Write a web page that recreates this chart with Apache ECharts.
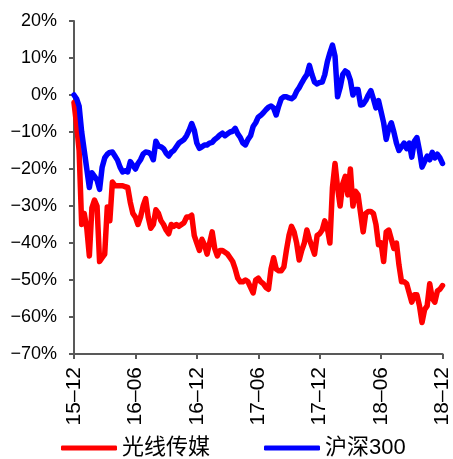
<!DOCTYPE html>
<html>
<head>
<meta charset="utf-8">
<script src="https://cdn.jsdelivr.net/npm/echarts@6/dist/echarts.min.js"></script>
<style>
html,body{margin:0;padding:0;background:#fff;}
#chart{width:453px;height:459px;}
</style>
</head>
<body>
<div id="chart"></div>
<script>
// Tick labels of the x axis (one every 24 weekly samples)
var xTickLabels = ['15–12','16–06','16–12','17–06','17–12','18–06','18–12'];
var yMin = -70, yMax = 20, yStep = 10;

// 光线传媒 relative return (%), ~weekly samples
var redName = '光线传媒';
var redValues = [
  -2,-8,-15,-35,-32,-36,-43.5,-30.5,-28.4,-30,
  -45,-44,-43,-30.3,-34,-23.5,-24.5,-24.5,-24.5,-24.5,
  -24.8,-25,-29,-32,-33,-35,-33,-30,-28,-33,
  -36,-35,-31,-32,-34,-35,-36.5,-37.5,-35,-35.5,
  -35,-35.5,-35,-34.5,-33,-33,-32.5,-38,-40,-42,
  -39,-40.5,-43,-40,-37,-41.5,-43.5,-42,-42,-42.5,
  -43,-44,-45,-47,-49.5,-50.5,-50.5,-50,-50.5,-52,
  -53.5,-50,-49.5,-50.5,-51,-52,-52.5,-47,-44,-47,
  -47.5,-47.5,-46.5,-42,-38,-35.5,-37,-40,-44.6,-42,
  -40,-36.5,-39,-41,-43,-38,-37.5,-36.5,-34,-36,
  -40,-25,-18.5,-25,-30,-24,-22,-27,-20,-30,
  -26,-27,-32,-37,-32,-31.5,-31.5,-32,-35,-40.5,
  -40,-45,-37,-36.5,-39,-41.5,-40,-46,-50.5,-50.5,
  -51,-53.5,-56,-54,-54,-57,-61.5,-58,-57,-51,
  -55,-56,-53,-52.5,-51.5
];

// 沪深300 relative return (%), ~weekly samples
var blueName = '沪深300';
var blueValues = [
  0,-1,-3,-10,-15,-20,-25,-21,-22,-23,
  -25.5,-19.5,-17,-16,-15.5,-15.4,-16.5,-17.6,-19.5,-20.8,
  -20.5,-20.8,-18,-19,-20,-18.5,-17.5,-16,-15.4,-15.5,
  -16,-17.5,-12.5,-13.8,-14,-14.5,-15.7,-16.5,-15.5,-15,
  -14,-13,-12.5,-12,-11,-9.5,-7.7,-9.5,-13,-14.4,
  -14,-13.5,-13.5,-13,-12.8,-12,-11.5,-10.8,-10.3,-11,
  -10.5,-10,-9.8,-9,-10.5,-11.5,-13,-13.5,-12,-11,
  -8.5,-7.5,-6,-5.5,-4.8,-4,-3.3,-3,-3.5,-5.4,
  -3,-1,-0.5,-0.5,-0.8,-1,-0.5,1,2,3.3,
  4.5,5.5,8,5.5,3.5,3,3.4,3.5,5.5,9,
  11.4,13.5,10.5,-0.5,2,5.5,6.5,6,4,0,
  1.5,1.5,-2.7,-2.5,-1.5,0,1.2,-1,-3.5,-1.5,
  -4.5,-7.5,-12,-9,-7.5,-10,-13,-15,-14,-13,
  -14.5,-13,-16.8,-12.5,-11.5,-15,-19.5,-18,-16.5,-17.5,
  -15.5,-17,-16,-17,-18.5
];

var samplesPerTick = 24;
var categories = redValues.map(function (_, i) { return 'w' + i; });

var fontFamily = "'Liberation Sans', Arial, 'Noto Sans CJK SC', sans-serif";
var chart = echarts.init(document.getElementById('chart'), null, {renderer: 'canvas'});
chart.setOption({
  animation: false,
  backgroundColor: '#ffffff',
  grid: {left: 74, right: 10, top: 21, bottom: 105, containLabel: false},
  legend: {
    top: 432,
    left: 56,
    itemWidth: 56,
    itemHeight: 5,
    itemGap: 54,
    icon: 'roundRect',
    textStyle: {fontSize: 22, color: '#000', fontFamily: fontFamily, padding: [0, 0, 0, 0]},
    data: [redName, blueName]
  },
  xAxis: {
    type: 'category',
    boundaryGap: false,
    data: categories,
    axisLine: {show: true, onZero: false, lineStyle: {color: '#595959', width: 2}},
    axisTick: {
      show: true, length: 5, lineStyle: {color: '#595959', width: 2},
      interval: function (idx) { return idx % samplesPerTick === 0; }
    },
    axisLabel: {
      rotate: 90,
      margin: 13,
      fontSize: 21,
      color: '#000',
      fontFamily: fontFamily,
      interval: function (idx) { return idx % samplesPerTick === 0; },
      formatter: function (v, idx) { return xTickLabels[Math.round(idx / samplesPerTick)] || ''; }
    },
    splitLine: {show: false}
  },
  yAxis: {
    type: 'value',
    min: yMin, max: yMax, interval: yStep,
    axisLine: {show: true, lineStyle: {color: '#595959', width: 2}},
    axisTick: {show: true, length: 5, lineStyle: {color: '#595959', width: 2}},
    axisLabel: {
      fontSize: 18, color: '#000', fontFamily: fontFamily, margin: 17,
      formatter: function (v) { return (v < 0 ? '\u2212' + Math.abs(v) : v) + '%'; }
    },
    splitLine: {show: false}
  },
  series: [
    {
      name: redName, type: 'line', data: redValues, showSymbol: false, symbol: 'none',
      itemStyle: {color: '#ff0000'},
      lineStyle: {color: '#ff0000', width: 5.5, join: 'round', cap: 'round'}
    },
    {
      name: blueName, type: 'line', data: blueValues, showSymbol: false, symbol: 'none',
      itemStyle: {color: '#0000ff'},
      lineStyle: {color: '#0000ff', width: 5.5, join: 'round', cap: 'round'}
    }
  ]
});
</script>
</body>
</html>
